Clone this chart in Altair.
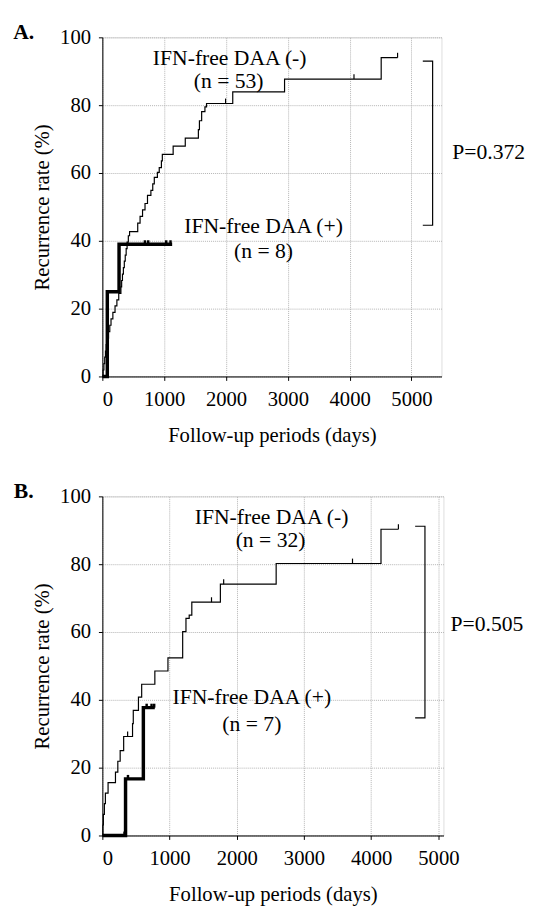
import altair as alt
import pandas as pd

FONT = "Liberation Serif"

# ---------------- Panel A ----------------
a_neg_day = [0, 12, 25, 38, 50, 62, 80, 100, 120, 140, 170, 205, 235, 265, 300, 312, 325, 340, 355, 370,
             385, 400, 420, 440, 572, 610, 650, 690, 730, 785, 815, 840, 890, 920, 955, 970, 1145, 1341,
             1553, 1570, 1606, 1659, 1685, 2109, 2947, 4510, 4775]
a_neg_rate = [0, 1.9, 3.8, 5.7, 7.5, 9.4, 11.3, 13.2, 15.1, 17.0, 18.9, 20.8, 22.6, 24.5, 26.4, 28.3, 30.2,
              32.1, 34.0, 35.8, 37.7, 39.6, 41.5, 42.7, 45.2, 47.2, 49.1, 51.0, 53.4, 54.9, 56.8, 58.7, 60.2,
              61.6, 63.6, 65.5, 67.9, 70.3, 72.8, 75.4, 78.1, 79.5, 80.5, 83.9, 87.7, 94.0, 94.0]
a_pos_day = [0, 80, 270, 1129]
a_pos_rate = [0, 25.0, 39.0, 39.0]
a_neg_cens_day = [1993, 4070, 4775]
a_neg_cens_rate = [80.5, 87.7, 94.0]
a_pos_cens_day = [688, 742, 1033, 1102]
a_pos_cens_rate = [39.0, 39.0, 39.0, 39.0]
a_text = ["IFN-free DAA (-)", "(n = 53)", "IFN-free DAA (+)", "(n = 8)"]
a_text_day = [2059, 2043, 2607, 2607]
a_text_rate = [94.0, 87.0, 44.3, 37.0]
a_bracket_day = [5183, 5342, 5342, 5183]
a_bracket_rate = [93.0, 93.0, 44.6, 44.6]
a_p = "P=0.372"
a_p_day, a_p_rate = 5660, 66.1
a_xmax = 5485

# ---------------- Panel B ----------------
b_neg_day = [0, 8, 15, 30, 45, 85, 195, 230, 265, 317, 449, 460, 537, 585, 781, 976, 1195, 1244, 1292,
             1331, 1756, 2586, 4146, 4405]
b_neg_rate = [0, 3.1, 6.2, 9.4, 12.5, 15.6, 18.7, 21.9, 25.0, 29.2, 33.0, 36.9, 40.8, 44.6, 48.5, 52.4,
              60.1, 64.0, 65.0, 68.8, 74.1, 80.2, 90.3, 90.3]
b_pos_day = [0, 345, 610, 780]
b_pos_rate = [0, 16.7, 37.7, 37.7]
b_neg_cens_day = [376, 1624, 1805, 3722, 4405]
b_neg_cens_rate = [29.2, 68.8, 74.1, 80.2, 90.3]
b_pos_cens_day = [330, 381, 659, 732, 771]
b_pos_cens_rate = [0, 16.7, 37.7, 37.7, 37.7]
b_text = ["IFN-free DAA (-)", "(n = 32)", "IFN-free DAA (+)", "(n = 7)"]
b_text_day = [2517, 2503, 2224, 2224]
b_text_rate = [94.0, 87.0, 40.8, 32.7]
b_bracket_day = [4654, 4800, 4800, 4654]
b_bracket_rate = [91.2, 91.2, 34.7, 34.7]
b_p = "P=0.505"
b_p_day, b_p_rate = 5181, 62.2
b_xmax = 5075

x_ticks = [0, 1000, 2000, 3000, 4000, 5000]
y_ticks = [0, 10, 20, 30, 40, 50, 60, 70, 80, 90, 100]


def panel(letter, neg_day, neg_rate, pos_day, pos_rate, nc_day, nc_rate, pc_day, pc_rate,
          texts, t_day, t_rate, br_day, br_rate, ptxt, p_day, p_rate, xmax, width):
    xs = alt.Scale(domain=[0, xmax], nice=False, zero=True)
    ys = alt.Scale(domain=[0, 100], nice=False)
    xaxis = alt.Axis(values=x_ticks, format="d", title="Follow-up periods (days)", grid=True,
                     gridColor="#b4b4b4", gridDash=[1, 1], gridWidth=1,
                     domainColor="black", domainWidth=1, tickColor="black", tickSize=4,
                     labelFont=FONT, labelFontSize=21, labelColor="black", labelPadding=9,
                     titleFont=FONT, titleFontSize=21, titleFontWeight="normal", titleColor="black",
                     titleY=60, titleBaseline="middle")
    yaxis = alt.Axis(values=y_ticks, format="d", title="Recurrence rate (%)", grid=True,
                     gridColor="#b4b4b4", gridDash=[1, 1], gridWidth=1,
                     labelExpr="datum.value % 20 === 0 ? datum.label : ''",
                     domainColor="black", domainWidth=1, tickColor="black", tickSize=4,
                     tickOpacity={"condition": {"test": "datum.value % 20 === 0", "value": 1}, "value": 0},
                     labelFont=FONT, labelFontSize=21, labelColor="black", labelPadding=8,
                     titleFont=FONT, titleFontSize=21, titleFontWeight="normal", titleColor="black",
                     titleX=-61, titleY=172.5, titleBaseline="middle")

    neg = pd.DataFrame({"day": neg_day, "rate": neg_rate})
    pos = pd.DataFrame({"day": pos_day, "rate": pos_rate})
    negc = pd.DataFrame({"day": nc_day, "rate": nc_rate})
    posc = pd.DataFrame({"day": pc_day, "rate": pc_rate})
    txt = pd.DataFrame({"label": texts, "day": t_day, "rate": t_rate})
    br = pd.DataFrame({"day": br_day, "rate": br_rate, "i": list(range(len(br_day)))})
    pdf = pd.DataFrame({"label": [ptxt], "day": [p_day], "rate": [p_rate]})
    let = pd.DataFrame({"label": [letter]})

    neg_line = alt.Chart(neg).mark_line(interpolate="step-after", color="black", strokeWidth=1.2).encode(
        x=alt.X("day:Q", scale=xs, axis=xaxis),
        y=alt.Y("rate:Q", scale=ys, axis=yaxis),
    )
    pos_line = alt.Chart(pos).mark_line(interpolate="step-after", color="black", strokeWidth=3.5).encode(
        x=alt.X("day:Q", scale=xs), y=alt.Y("rate:Q", scale=ys))
    neg_c = alt.Chart(negc).mark_point(shape="M0,0L0,-1", size=100, filled=False, color="black",
                                       strokeWidth=1.2, opacity=1).encode(
        x=alt.X("day:Q", scale=xs), y=alt.Y("rate:Q", scale=ys))
    pos_c = alt.Chart(posc).mark_point(shape="M0,0L0,-1", size=64, filled=False, color="black",
                                       strokeWidth=2.5, opacity=1).encode(
        x=alt.X("day:Q", scale=xs), y=alt.Y("rate:Q", scale=ys))
    labels = alt.Chart(txt).mark_text(font=FONT, fontSize=22, color="black", align="center",
                                      baseline="middle").encode(
        x=alt.X("day:Q", scale=xs), y=alt.Y("rate:Q", scale=ys), text="label:N")
    bracket = alt.Chart(br).mark_line(color="black", strokeWidth=1.2).encode(
        x=alt.X("day:Q", scale=xs), y=alt.Y("rate:Q", scale=ys), order="i:Q")
    ptext = alt.Chart(pdf).mark_text(font=FONT, fontSize=22, color="black", align="left",
                                     baseline="middle").encode(
        x=alt.X("day:Q", scale=xs), y=alt.Y("rate:Q", scale=ys), text="label:N")
    letter_t = alt.Chart(let).mark_text(font=FONT, fontSize=22, fontWeight="bold", color="black",
                                        align="center", baseline="middle").encode(
        x=alt.value(-80), y=alt.value(-5), text="label:N")
    return alt.layer(neg_line, pos_line, neg_c, pos_c, labels, bracket, ptext, letter_t).properties(
        width=width, height=345)


pa = panel("A.", a_neg_day, a_neg_rate, a_pos_day, a_pos_rate, a_neg_cens_day, a_neg_cens_rate,
           a_pos_cens_day, a_pos_cens_rate, a_text, a_text_day, a_text_rate,
           a_bracket_day, a_bracket_rate, a_p, a_p_day, a_p_rate, a_xmax, 345)
pb = panel("B.", b_neg_day, b_neg_rate, b_pos_day, b_pos_rate, b_neg_cens_day, b_neg_cens_rate,
           b_pos_cens_day, b_pos_cens_rate, b_text, b_text_day, b_text_rate,
           b_bracket_day, b_bracket_rate, b_p, b_p_day, b_p_rate, b_xmax, 347)

chart = alt.vconcat(pa, pb, spacing=34).properties(
    padding={"left": 4, "top": 5, "right": 0, "bottom": 0}
).configure_view(stroke="#868686", strokeWidth=1).configure(background="white")

chart.save("out.html", embed_options={"renderer": "svg", "actions": False})
